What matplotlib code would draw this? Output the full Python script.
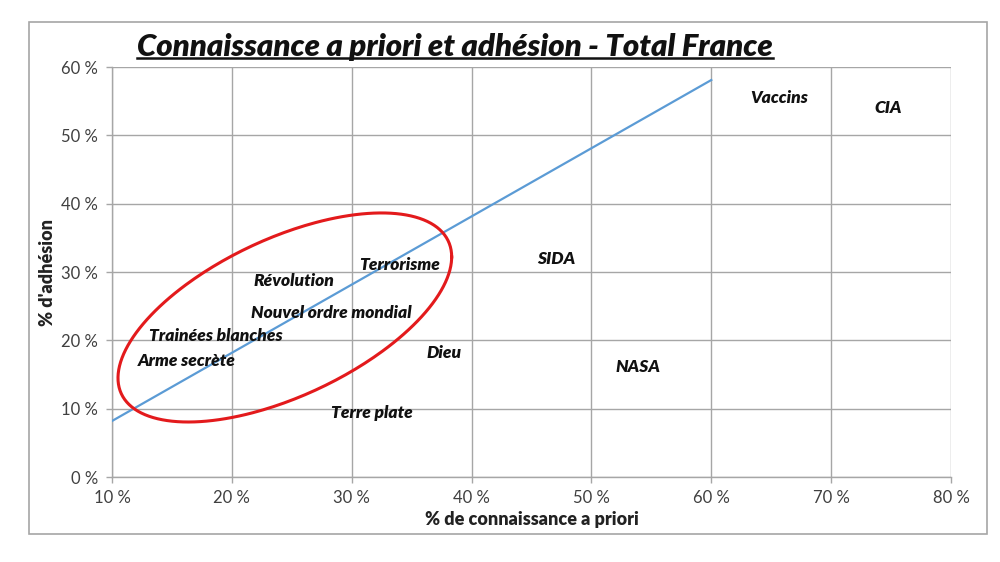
import numpy as np
import matplotlib.pyplot as plt
from matplotlib.lines import Line2D
from matplotlib.patches import Rectangle

# data: % connaissance a priori (x), % adhesion (y)
themes = ["Vaccins", "CIA", "Terrorisme", "SIDA", "Révolution",
          "Nouvel ordre mondial", "Trainées blanches", "Arme secrète",
          "Dieu", "NASA", "Terre plate"]
connaissance = [65.7, 74.8, 34.0, 47.1, 25.2, 28.3, 18.7, 16.2, 37.7, 53.9, 31.7]
adhesion = [55.5, 54.0, 31.0, 31.9, 28.7, 24.0, 20.6, 17.0, 18.2, 16.1, 9.4]

trend_x = [10, 60]
trend_y = [8.2, 58.1]

x_ticks = [10, 20, 30, 40, 50, 60, 70, 80]
y_ticks = [0, 10, 20, 30, 40, 50, 60]

grey = "#a6a6a6"
font = "Lato"

fig = plt.figure(figsize=(10, 5.62), dpi=100)
ax = fig.add_axes([0.112, 0.1512, 0.839, 0.7295])

# outer chart frame
fig.patches.append(Rectangle((0.029, 0.050), 0.958, 0.911, transform=fig.transFigure,
                             fill=False, edgecolor=grey, linewidth=1.2))

ax.set_xlim(10, 80)
ax.set_ylim(0, 60)
ax.set_xticks(x_ticks)
ax.set_yticks(y_ticks)
ax.set_xticklabels([f"{v} %" for v in x_ticks], fontfamily=font, fontsize=12, color="#404040")
ax.set_yticklabels([f"{v} %" for v in y_ticks], fontfamily=font, fontsize=12, color="#404040")
ax.tick_params(axis="both", color=grey, length=4, width=1)
ax.tick_params(axis="x", pad=5)
ax.tick_params(axis="y", pad=6)
ax.grid(True, color=grey, linewidth=1)
ax.set_axisbelow(True)
for s in ["top", "right"]:
    ax.spines[s].set_visible(False)
for s in ["left", "bottom"]:
    ax.spines[s].set_color(grey)
    ax.spines[s].set_linewidth(1)

# trend line
ax.plot(trend_x, trend_y, color="#5b9bd5", linewidth=1.6, zorder=3)

# labels (points are invisible, only labels shown)
for name, cx, cy in zip(themes, connaissance, adhesion):
    ax.text(cx, cy, name, ha="center", va="center", fontfamily=font,
            fontweight="heavy", fontstyle="italic", fontsize=12.5, color="#111111", zorder=4)

# red ellipse around the cluster
center = (24.42, 23.35)
vec_a = np.array([13.92, 8.86])
vec_b = np.array([0.0, 12.47])
t = np.linspace(0, 2 * np.pi, 300)
ex = center[0] + vec_a[0] * np.cos(t) + vec_b[0] * np.sin(t)
ey = center[1] + vec_a[1] * np.cos(t) + vec_b[1] * np.sin(t)
ax.plot(ex, ey, color="#e31a1c", linewidth=2.2, zorder=5)

ax.set_xlabel("% de connaissance a priori", fontfamily=font, fontweight="heavy",
              fontsize=13, color="#222222", labelpad=4)
ax.set_ylabel("% d'adhésion", fontfamily=font, fontweight="heavy",
              fontsize=13, color="#222222", labelpad=4)

# underlined title
title = fig.text(0.455, 0.917, "Connaissance a priori et adhésion - Total France",
                 ha="center", va="center", fontfamily=font, fontweight="heavy",
                 fontstyle="italic", fontsize=22.4, color="#111111")
fig.canvas.draw()
bb = title.get_window_extent().transformed(fig.transFigure.inverted())
fig.lines.append(Line2D([bb.x0, bb.x1], [bb.y0 + 0.004, bb.y0 + 0.004],
                        transform=fig.transFigure, color="#111111", linewidth=1.8))

fig.savefig("out.png", dpi=100)
